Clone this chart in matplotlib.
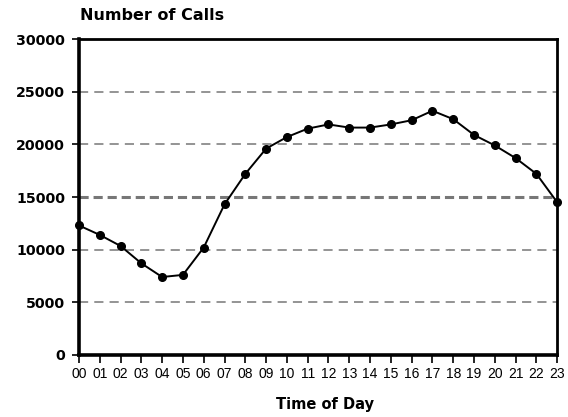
import matplotlib
matplotlib.use("Agg")
import matplotlib.pyplot as plt

hours = ["00","01","02","03","04","05","06","07","08","09","10","11",
         "12","13","14","15","16","17","18","19","20","21","22","23"]
calls = [12300, 11400, 10350, 8700, 7400, 7600, 10200, 14300, 17200, 19600, 20700, 21500,
         21900, 21600, 21600, 21900, 22300, 23200, 22400, 20900, 19900, 18700, 17200, 14500]
yticks = [0, 5000, 10000, 15000, 20000, 25000, 30000]

plt.rcParams['font.family'] = ['Liberation Sans', 'DejaVu Sans']
fig = plt.figure(figsize=(5.68, 4.17), dpi=100)
ax = fig.add_axes([0.139, 0.149, 0.842, 0.757])
x = list(range(len(hours)))
ax.set_xlim(0, len(hours) - 1)
ax.set_ylim(0, 30000)

for v in yticks[1:-1]:
    if v == 15000:
        ax.axhline(v, color='#777777', lw=2.2, ls=(0, (3, 1.6)), zorder=1)
    else:
        ax.axhline(v, color='#777777', lw=1.1, ls=(0, (6, 4)), zorder=1)

ax.plot(x, calls, color='black', lw=1.4, marker='o', ms=5.5, clip_on=False, zorder=3)

ax.set_xticks(x)
ax.set_xticklabels(hours, fontsize=10)
ax.set_yticks(yticks)
ax.set_yticklabels([str(v) for v in yticks], fontsize=10.2, fontweight='bold',
                   family=['DejaVu Sans'])
ax.tick_params(axis='x', direction='out', length=6, width=1.2, pad=3)
ax.tick_params(axis='y', direction='out', length=5, width=1.2, pad=5)

for side in ['left', 'bottom']:
    ax.spines[side].set_linewidth(2.6)
for side in ['top', 'right']:
    ax.spines[side].set_linewidth(2.0)

ax.set_xlabel('Time of Day', fontsize=10.5, fontweight='bold', labelpad=12,
              family=['DejaVu Sans'])
ax.xaxis.set_label_coords(0.515, -0.135)
fig.text(0.141, 0.962, 'Number of Calls', fontsize=11.5, fontweight='bold',
         ha='left', va='center', family=['DejaVu Sans'])

fig.savefig('out.png', dpi=100)
